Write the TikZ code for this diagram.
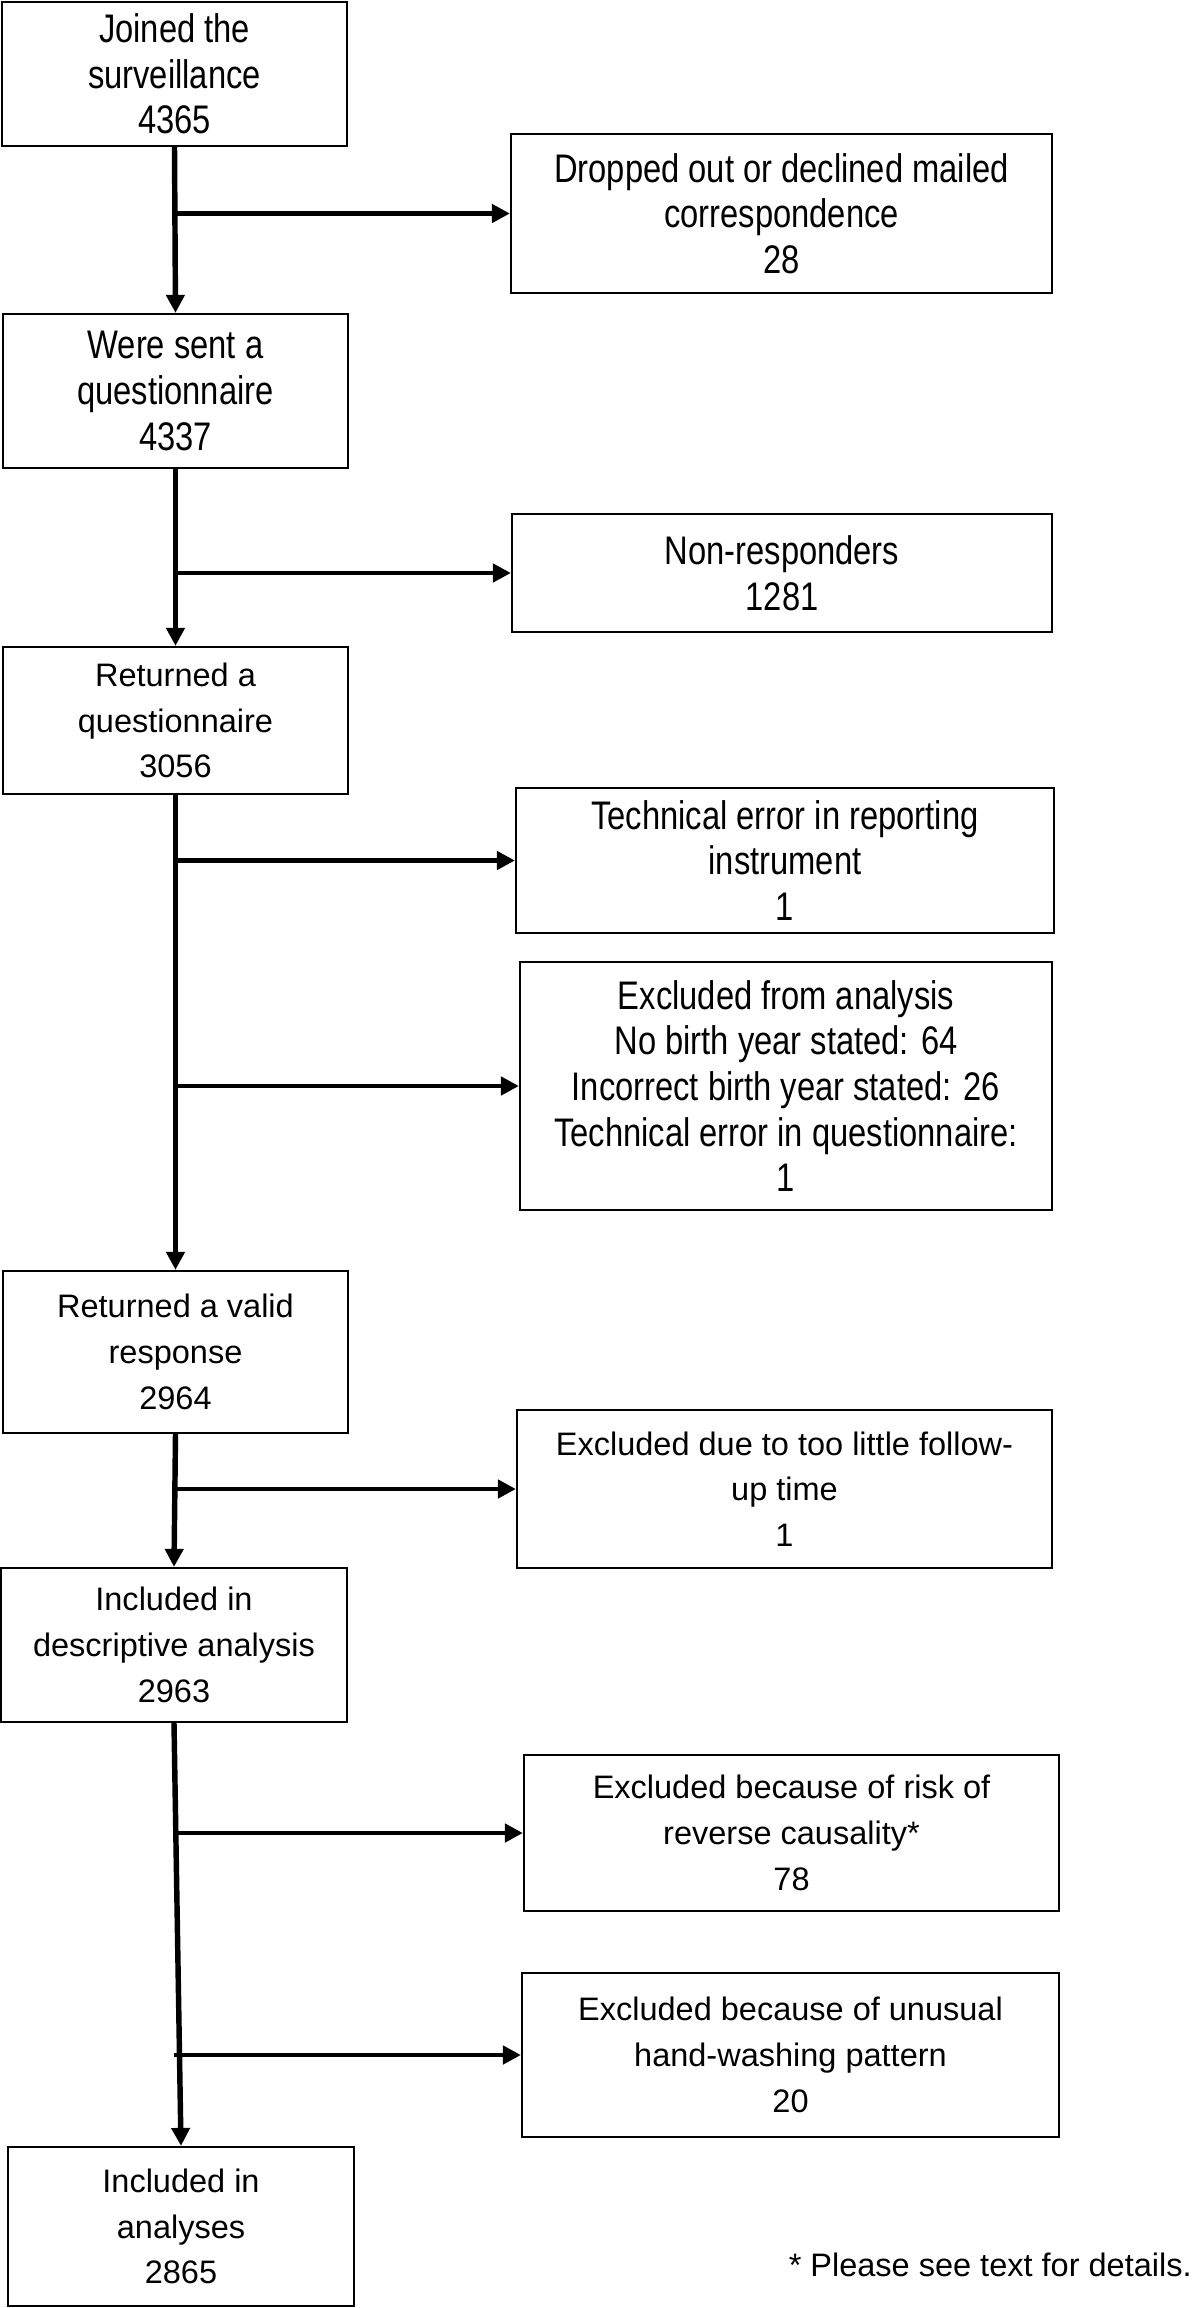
\documentclass[tikz,border=0pt]{standalone}
\usepackage{fontspec}
\setmainfont{Liberation Sans}
\newfontfamily\narrowfont[FakeStretch=0.82]{Liberation Sans}
\usepackage{tikz}
\usetikzlibrary{arrows.meta,calc,positioning}
\tikzstyle{narrowbox} = [draw, line width=1.3pt, align=center, inner sep=0pt, font=\narrowfont\fontsize{22.7}{26}\selectfont]
\tikzstyle{widebox} = [draw, line width=1.3pt, align=center, inner sep=0pt, font=\fontsize{18.5}{26}\selectfont]
\tikzstyle{mainarrow} = [line width=3.1pt, -{Triangle[length=0.36cm,width=0.36cm]}]
\tikzstyle{sidearrow} = [line width=2.6pt, -{Triangle[length=0.36cm,width=0.36cm]}]

\begin{document}
\begin{tikzpicture}[x=0.02cm,y=-0.02cm]
\useasboundingbox (0,0) rectangle (1200,2308);

\node[narrowbox,minimum width=6.9cm,minimum height=2.88cm] (b1) at (174.5,74) {Joined the\\surveillance\\4365};
\node[narrowbox,minimum width=10.82cm,minimum height=3.18cm] (b2) at (781.5,213.5) {Dropped out or declined mailed\\correspondence\\28};
\node[narrowbox,minimum width=6.9cm,minimum height=3.08cm] (b3) at (175.5,391) {Were sent a\\questionnaire\\4337};
\node[narrowbox,minimum width=10.8cm,minimum height=2.36cm] (b4) at (782,573) {Non-responders\\1281};
\node[widebox,minimum width=6.9cm,minimum height=2.94cm] (b5) at (175.5,720.5) {Returned a\\questionnaire\\3056};
\node[narrowbox,minimum width=10.76cm,minimum height=2.9cm] (b6) at (785,860.5) {Technical error in reporting\\instrument\\1};
\node[narrowbox,minimum width=10.64cm,minimum height=4.96cm] (b7) at (786,1086) {Excluded from analysis\\No birth year stated: 64\\Incorrect birth year stated: 26\\Technical error in questionnaire:\\1};
\node[widebox,minimum width=6.9cm,minimum height=3.24cm] (b8) at (175.5,1352) {Returned a valid\\response\\2964};
\node[widebox,minimum width=10.7cm,minimum height=3.16cm] (b9) at (784.5,1489) {Excluded due to too little follow-\\up time\\1};
\node[widebox,minimum width=6.92cm,minimum height=3.08cm] (b10) at (174,1645) {Included in\\descriptive analysis\\2963};
\node[widebox,minimum width=10.7cm,minimum height=3.12cm] (b11) at (791.5,1833) {Excluded because of risk of\\reverse causality*\\78};
\node[widebox,minimum width=10.74cm,minimum height=3.28cm] (b12) at (790.5,2055) {Excluded because of unusual\\hand-washing pattern\\20};
\node[widebox,minimum width=6.92cm,minimum height=3.18cm] (b13) at (181,2226.5) {Included in\\analyses\\2865};

\node[anchor=east,font=\fontsize{18.5}{22}\selectfont,inner sep=0pt] (note) at (1192,2265) {* Please see text for details.};

\foreach \a/\b in {b1/b3,b3/b5,b5/b8,b8/b10,b10/b13} {
\draw[mainarrow] (\a.south) -- (\b.north); }

\foreach \a/\b in {b1/b2,b3/b4,b5/b6,b5/b7,b8/b9,b10/b11,b10/b12} {
\draw[sidearrow] (\a.south |- \b.west) -- (\b.west); }

\end{tikzpicture}
\end{document}
